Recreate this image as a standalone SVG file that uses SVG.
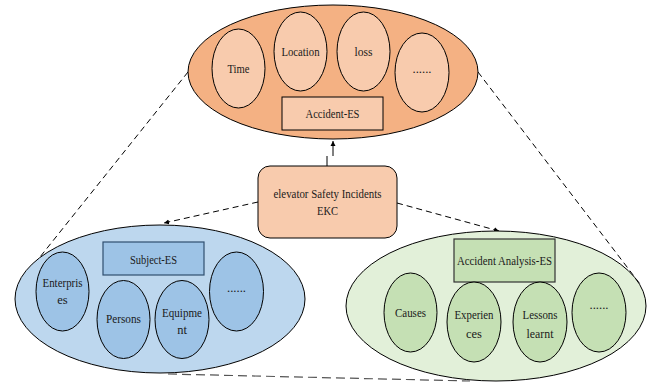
<svg xmlns="http://www.w3.org/2000/svg" width="655" height="382" viewBox="0 0 655 382">
<defs>
<marker id="ah" markerWidth="6" markerHeight="6" refX="5" refY="3" orient="auto" markerUnits="userSpaceOnUse">
<path d="M0,0.5 L5,3 L0,5.5 Z" fill="#000"/>
</marker>
<style>
text{font-family:"Liberation Serif","Times New Roman",serif;font-size:12.5px;fill:#1a1a1a;text-anchor:middle}
.o{stroke:#000;stroke-width:1}
.big-or{fill:#F4B183}
.in-or{fill:#F8CBAD}
.big-bl{fill:#BDD7EE}
.in-bl{fill:#9DC3E6}
.big-gr{fill:#E2F0D9}
.in-gr{fill:#C5E0B4}
.dash{fill:none;stroke:#000;stroke-width:1;stroke-dasharray:6,4}
.dashg{fill:none;stroke:#555;stroke-width:1.2;stroke-dasharray:9,5}
</style>
</defs>
<g id="connectors">
<path class="dash" d="M188,72 L36,262"/>
<path class="dash" d="M478,72 L640,284"/>
<path class="dashg" d="M168,374 L470,381"/>
<path class="dash" d="M258,202 L164,223" marker-end="url(#ah)"/>
<path class="dash" d="M397,203 L499,231" marker-end="url(#ah)"/>
<path fill="none" stroke="#000" stroke-width="1" d="M327,166 V156"/>
<path fill="none" stroke="#000" stroke-width="1" d="M333,156 V141" marker-end="url(#ah)"/>
</g>
<g id="accident-es">
<ellipse class="o big-or" cx="333" cy="72" rx="145" ry="67"/>
</g>
<g id="time"><ellipse class="o in-or" cx="238.5" cy="68.5" rx="26.5" ry="39.5"/><text x="238.5" y="73" textLength="22" lengthAdjust="spacingAndGlyphs">Time</text></g>
<g id="location"><ellipse class="o in-or" cx="300.5" cy="51.5" rx="26.5" ry="39.5"/><text x="300.5" y="56" textLength="38" lengthAdjust="spacingAndGlyphs">Location</text></g>
<g id="loss"><ellipse class="o in-or" cx="363.5" cy="51.5" rx="26.5" ry="39.5"/><text x="363.5" y="56" textLength="18" lengthAdjust="spacingAndGlyphs">loss</text></g>
<g id="more-top"><ellipse class="o in-or" cx="422" cy="72.5" rx="27" ry="39.5"/><text x="422" y="73" textLength="19" lengthAdjust="spacingAndGlyphs">......</text></g>
<g id="accident-es-label"><rect class="o in-or" x="282" y="97" width="101" height="33"/><text x="332.5" y="118" textLength="54" lengthAdjust="spacingAndGlyphs">Accident-ES</text></g>
<g id="ekc">
<rect class="o in-or" x="258" y="166" width="139" height="72" rx="12" ry="12"/>
<text x="327.5" y="198" textLength="108" lengthAdjust="spacingAndGlyphs">elevator Safety Incidents</text>
<text x="327.5" y="215" textLength="21" lengthAdjust="spacingAndGlyphs">EKC</text>
</g>
<g id="subject-es">
<ellipse class="o big-bl" cx="160" cy="299" rx="145" ry="74"/>
</g>
<g id="subject-es-label"><rect class="in-bl" stroke="#2F4F6F" stroke-width="1.2" x="103" y="242" width="101" height="33"/><text x="153.5" y="264" textLength="47" lengthAdjust="spacingAndGlyphs">Subject-ES</text></g>
<g id="enterprises"><ellipse class="o in-bl" cx="62.5" cy="291.5" rx="26.5" ry="39.5"/><text x="62.5" y="287" textLength="40" lengthAdjust="spacingAndGlyphs">Enterpris</text><text x="62.5" y="304">es</text></g>
<g id="persons"><ellipse class="o in-bl" cx="123.5" cy="319.5" rx="26.5" ry="39" /><text x="123.5" y="323" textLength="35" lengthAdjust="spacingAndGlyphs">Persons</text></g>
<g id="equipment"><ellipse class="o in-bl" cx="182" cy="319.5" rx="27" ry="39"/><text x="182" y="317" textLength="40" lengthAdjust="spacingAndGlyphs">Equipme</text><text x="182" y="333.5">nt</text></g>
<g id="more-left"><ellipse class="o in-bl" cx="236.5" cy="291.5" rx="27" ry="39.5"/><text x="236.5" y="292" textLength="19" lengthAdjust="spacingAndGlyphs">......</text></g>
<g id="accident-analysis-es">
<ellipse class="o big-gr" cx="496" cy="306" rx="150" ry="75"/>
</g>
<g id="accident-analysis-es-label"><rect class="in-gr" stroke="#333" stroke-width="1.2" x="454" y="239" width="101" height="43"/><text x="504.5" y="265" textLength="95" lengthAdjust="spacingAndGlyphs">Accident Analysis-ES</text></g>
<g id="causes"><ellipse class="o in-gr" cx="410.5" cy="312.5" rx="26.5" ry="39.5"/><text x="410.5" y="317" textLength="31" lengthAdjust="spacingAndGlyphs">Causes</text></g>
<g id="experiences"><ellipse class="o in-gr" cx="474" cy="322" rx="27" ry="40"/><text x="474" y="319" textLength="39" lengthAdjust="spacingAndGlyphs">Experien</text><text x="474" y="337.5">ces</text></g>
<g id="lessons"><ellipse class="o in-gr" cx="540" cy="322" rx="27" ry="40"/><text x="540" y="319" textLength="35" lengthAdjust="spacingAndGlyphs">Lessons</text><text x="540" y="337.5" textLength="27" lengthAdjust="spacingAndGlyphs">learnt</text></g>
<g id="more-right"><ellipse class="o in-gr" cx="599" cy="312.5" rx="27" ry="39.5"/><text x="599" y="309" textLength="19" lengthAdjust="spacingAndGlyphs">......</text></g>
</svg>
